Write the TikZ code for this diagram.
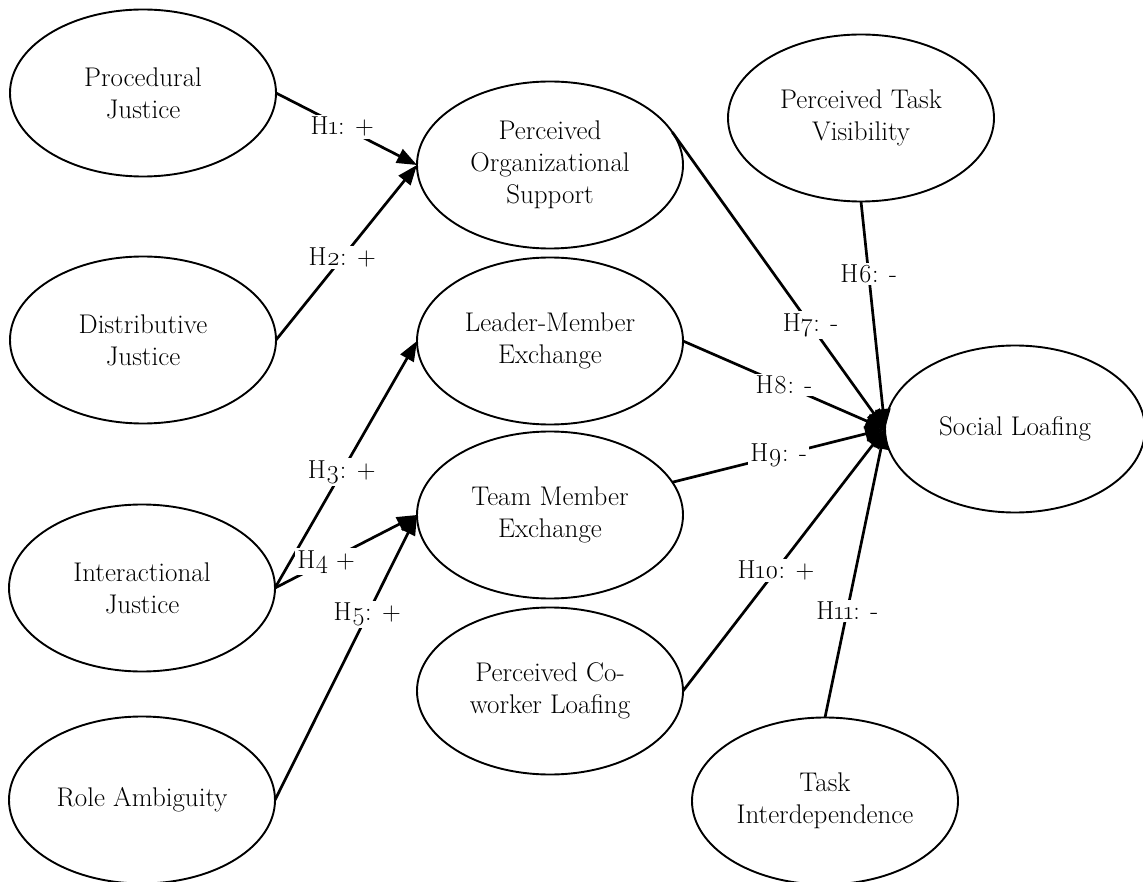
\documentclass[tikz,border=0pt]{standalone}
\usepackage{fontspec}
\setmainfont{Latin Modern Roman}[Numbers=OldStyle]
\usetikzlibrary{shapes.geometric,arrows.meta}
\begin{document}
\begin{tikzpicture}[x=1pt,y=-1pt,
  construct/.style={ellipse,draw,line width=1.9pt,minimum width=266pt,minimum height=167pt,
    inner sep=0pt,outer sep=0pt,align=center,font=\fontsize{27}{32}\selectfont},
  path/.style={line width=2.7pt,-{Triangle[length=20pt,width=15pt]}},
  hyp/.style={fill=white,inner sep=2pt,font=\fontsize{26}{30}\selectfont}]
\useasboundingbox (0,0) rectangle (1143,882);

% exogenous constructs
\node[construct] (PJ)  at (143,93)  {Procedural\\Justice};
\node[construct] (DJ)  at (143,340) {Distributive\\Justice};
\node[construct] (IJ)  at (142,588) {Interactional\\Justice};
\node[construct] (RA)  at (142,800) {Role Ambiguity};

% mediators
\node[construct] (POS) at (550,165) {Perceived\\Organizational\\Support};
\node[construct] (LMX) at (550,341) {Leader-Member\\Exchange};
\node[construct] (TMX) at (550,515) {Team Member\\Exchange};
\node[construct] (PCL) at (550,691) {Perceived Co-\\worker Loafing};

% right-hand constructs
\node[construct] (PTV) at (861,118) {Perceived Task\\Visibility};
\node[construct,minimum width=260pt] (SL) at (1015,429) {Social Loafing};
\node[construct] (TI)  at (825,801) {Task\\Interdependence};

% hypothesised paths
\draw[path] (PJ.east) -- node[hyp,pos=0.47] {H1: +} (POS.west);
\draw[path] (DJ.east) -- node[hyp,pos=0.47] {H2: +} (POS.west);
\draw[path] (IJ.east) -- node[hyp,pos=0.47] {H3: +} (LMX.west);
\draw[path] (IJ.east) -- node[hyp,pos=0.36] {H4 +} (TMX.west);
\draw[path] (RA.east) -- node[hyp,pos=0.65] {H5: +} (TMX.west);
\draw[path] (PTV.south) -- node[hyp,pos=0.32] {H6: -} (SL.west);
\draw[path] (POS.15) -- node[hyp,pos=0.65] {H7: -} (SL.west);
\draw[path] (LMX.east) -- node[hyp,pos=0.5] {H8: -} (SL.west);
\draw[path] (TMX.15) -- node[hyp,pos=0.5] {H9: -} (SL.west);
\draw[path] (PCL.east) -- node[hyp,pos=0.46] {H10: +} (SL.west);
\draw[path] (TI.north) -- node[hyp,pos=0.37] {H11: -} (SL.west);
\end{tikzpicture}
\end{document}
